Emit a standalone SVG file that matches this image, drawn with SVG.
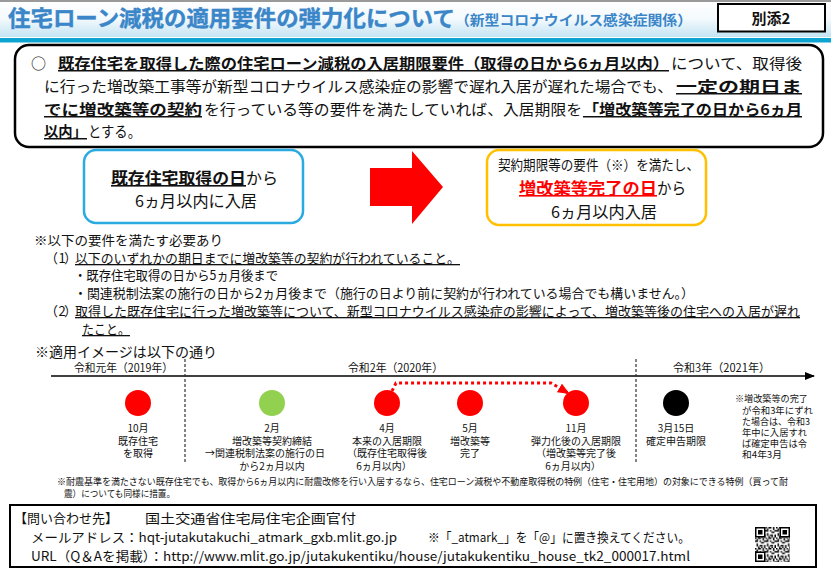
<svg xmlns="http://www.w3.org/2000/svg" width="831" height="572" viewBox="0 0 831 572">
<defs>
<linearGradient id="hdr" x1="0" y1="0" x2="0" y2="1">
<stop offset="0" stop-color="#ffffff"/>
<stop offset="0.5" stop-color="#f4fafd"/>
<stop offset="1" stop-color="#c4e4f3"/>
</linearGradient>
<pattern id="qrp" x="755" y="527" width="10.5" height="10.5" patternUnits="userSpaceOnUse">
<rect x="0" y="0" width="1.5" height="1.5"/><rect x="3" y="0" width="3" height="1.5"/><rect x="7.5" y="0" width="1.5" height="3"/>
<rect x="1.5" y="1.5" width="1.5" height="1.5"/><rect x="4.5" y="3" width="1.5" height="1.5"/><rect x="0" y="3" width="3" height="1.5"/>
<rect x="9" y="3" width="1.5" height="1.5"/><rect x="6" y="4.5" width="3" height="1.5"/><rect x="1.5" y="6" width="1.5" height="3"/>
<rect x="4.5" y="7.5" width="3" height="1.5"/><rect x="9" y="7.5" width="1.5" height="3"/><rect x="3" y="9" width="1.5" height="1.5"/>
<rect x="6" y="9" width="1.5" height="1.5"/>
</pattern>
<marker id="tl" markerWidth="10" markerHeight="8" refX="9" refY="4" orient="auto" markerUnits="userSpaceOnUse"><path d="M0,0 L10,4 L0,8 Z" fill="#000"/></marker>
<marker id="rd" markerWidth="12" markerHeight="10" refX="10" refY="5" orient="auto" markerUnits="userSpaceOnUse"><path d="M0,0 L12,5 L0,10 Z" fill="#ff0000"/></marker>
</defs>
<style>
text{font-family:"Noto Sans CJK JP","Noto Sans",sans-serif;fill:#111}
.b{font-weight:bold}
.u{text-decoration:underline}
.f15{font-size:15px}
.f16{font-size:16px}
.f14{font-size:14px}
.f13{font-size:13px}
.f12{font-size:11.5px}
.f9{font-size:9.5px}
.f9s{font-size:9px}
.m{text-anchor:middle}
.red{fill:#ff0000}
.lbl{font-size:10px;text-anchor:middle}
</style>
<rect width="831" height="572" fill="#ffffff"/>

<g id="header">
<rect x="0" y="0" width="831" height="37" fill="url(#hdr)"/>
<rect x="0" y="0" width="831" height="2" fill="#9a9a9a"/>
<rect x="0" y="38" width="831" height="4.5" fill="#0ea4d2"/>
<text x="8" y="26" font-size="22" class="b" style="fill:#3a86c8;stroke:#3a86c8;stroke-width:0.4" textLength="447" lengthAdjust="spacingAndGlyphs">住宅ローン減税の適用要件の弾力化について</text>
<text x="455" y="25" font-size="14" class="b" style="fill:#3a86c8" textLength="237" lengthAdjust="spacingAndGlyphs">（新型コロナウイルス感染症関係）</text>
</g>

<g id="attach-label">
<rect x="718" y="4" width="107" height="27.5" fill="#fff" stroke="#000" stroke-width="2"/>
<text x="771" y="23.5" font-size="15" class="b m">別添2</text>
</g>

<g id="summary-box">
<rect x="15" y="45" width="808" height="102" rx="14" fill="#fff" stroke="#000" stroke-width="2.5"/>
<text x="31" y="69" class="f15">○</text>
<text x="58" y="69" class="f15 b u" textLength="611" lengthAdjust="spacingAndGlyphs">既存住宅を取得した際の住宅ローン減税の入居期限要件（取得の日から6ヵ月以内）</text>
<text x="671" y="69" class="f15" textLength="131" lengthAdjust="spacingAndGlyphs">について、取得後</text>
<text x="44" y="92" class="f15" textLength="629" lengthAdjust="spacingAndGlyphs">に行った増改築工事等が新型コロナウイルス感染症の影響で遅れ入居が遅れた場合でも、</text>
<text x="676" y="92" class="f15 b u" textLength="126" lengthAdjust="spacingAndGlyphs">一定の期日ま</text>
<text x="44" y="115" class="f15 b u" textLength="158" lengthAdjust="spacingAndGlyphs">でに増改築等の契約</text>
<text x="204" y="115" class="f15" textLength="378" lengthAdjust="spacingAndGlyphs">を行っている等の要件を満たしていれば、入居期限を</text>
<text x="583" y="115" class="f15 b u" textLength="219" lengthAdjust="spacingAndGlyphs">「増改築等完了の日から6ヵ月</text>
<text x="44" y="137" class="f15 b u" textLength="43" lengthAdjust="spacingAndGlyphs">以内」</text>
<text x="88" y="137" class="f15" textLength="53" lengthAdjust="spacingAndGlyphs">とする。</text>
</g>

<g id="before-box">
<rect x="84" y="150" width="219" height="73" rx="12" fill="#fff" stroke="#29abe2" stroke-width="2.5"/>
<text x="111" y="184" class="f16 b u" textLength="135" lengthAdjust="spacingAndGlyphs">既存住宅取得の日</text>
<text x="246" y="184" class="f16" textLength="32" lengthAdjust="spacingAndGlyphs">から</text>
<text x="135" y="207" class="f16" textLength="122" lengthAdjust="spacingAndGlyphs">6ヵ月以内に入居</text>
</g>

<g id="connectors">
<polygon points="370,168 412,168 412,151 443,187 412,224 412,206 370,206" fill="#ff0000"/>
<line x1="51" y1="376" x2="814" y2="376" stroke="#000" stroke-width="1.5" marker-end="url(#tl)"/>
<line x1="185" y1="359" x2="185" y2="463" stroke="#333" stroke-width="1.2" stroke-dasharray="3 2"/>
<line x1="636" y1="359" x2="636" y2="463" stroke="#333" stroke-width="1.2" stroke-dasharray="3 2"/>
<path d="M392,391 L396,383 L551,383 L568,393" fill="none" stroke="#ff0000" stroke-width="3" stroke-dasharray="3 3" marker-end="url(#rd)"/>
</g>

<g id="after-box">
<rect x="487" y="150" width="219" height="75" rx="12" fill="#fff" stroke="#ffc000" stroke-width="2.5"/>
<text x="498" y="170" class="f14" textLength="201" lengthAdjust="spacingAndGlyphs">契約期限等の要件（※）を満たし、</text>
<text x="519" y="194" class="f16 b u red" textLength="138" lengthAdjust="spacingAndGlyphs">増改築等完了の日</text>
<text x="657" y="194" class="f16" textLength="29" lengthAdjust="spacingAndGlyphs">から</text>
<text x="551" y="218" class="f16" textLength="106" lengthAdjust="spacingAndGlyphs">6ヵ月以内入居</text>
</g>

<g id="requirements">
<text x="34" y="245" class="f13" textLength="189" lengthAdjust="spacingAndGlyphs">※以下の要件を満たす必要あり</text>
<g id="num1">
<text x="45" y="263" class="f13">（</text>
<text x="58.5" y="263" class="f13">1</text>
<text x="64" y="263" class="f13">）</text>
</g>
<text x="75" y="263" class="f13 u" textLength="385" lengthAdjust="spacingAndGlyphs">以下のいずれかの期日までに増改築等の契約が行われていること。</text>
<text x="74" y="280" class="f13" textLength="204" lengthAdjust="spacingAndGlyphs">・既存住宅取得の日から5ヵ月後まで</text>
<text x="74" y="298" class="f13" textLength="620" lengthAdjust="spacingAndGlyphs">・関連税制法案の施行の日から2ヵ月後まで（施行の日より前に契約が行われている場合でも構いません。）</text>
<g id="num2">
<text x="45" y="316" class="f13">（</text>
<text x="58.5" y="316" class="f13">2</text>
<text x="64" y="316" class="f13">）</text>
</g>
<text x="75" y="316" class="f13 u" textLength="725" lengthAdjust="spacingAndGlyphs">取得した既存住宅に行った増改築等について、新型コロナウイルス感染症の影響によって、増改築等後の住宅への入居が遅れ</text>
<text x="82" y="334" class="f13 u" textLength="48" lengthAdjust="spacingAndGlyphs">たこと。</text>
</g>

<g id="timeline-labels">
<text x="35" y="357" class="f14" textLength="182" lengthAdjust="spacingAndGlyphs">※適用イメージは以下の通り</text>
<text x="74" y="372" class="f12" textLength="99" lengthAdjust="spacingAndGlyphs">令和元年（2019年）</text>
<text x="348" y="372" class="f12" textLength="95" lengthAdjust="spacingAndGlyphs">令和2年（2020年）</text>
<text x="673" y="372" class="f12" textLength="97" lengthAdjust="spacingAndGlyphs">令和3年（2021年）</text>
</g>

<g id="event-oct">
<circle cx="138" cy="403" r="13" fill="#ff0000"/>
<text x="138" y="432" class="lbl">10月</text>
<text x="138" y="444.5" class="lbl">既存住宅</text>
<text x="138" y="457" class="lbl">を取得</text>
</g>
<g id="event-feb">
<circle cx="272" cy="403" r="13" fill="#92d050"/>
<text x="272" y="432" class="lbl">2月</text>
<text x="272" y="444.5" class="lbl">増改築等契約締結</text>
<text x="265" y="457" class="lbl">→関連税制法案の施行の日</text>
<text x="272" y="469.5" class="lbl">から2ヵ月以内</text>
</g>
<g id="event-apr">
<circle cx="387" cy="403" r="13" fill="#ff0000"/>
<text x="387" y="432" class="lbl">4月</text>
<text x="387" y="444.5" class="lbl">本来の入居期限</text>
<text x="387" y="457" class="lbl">（既存住宅取得後</text>
<text x="384" y="469.5" class="lbl">6ヵ月以内）</text>
</g>
<g id="event-may">
<circle cx="470" cy="403" r="13" fill="#ff0000"/>
<text x="470" y="432" class="lbl">5月</text>
<text x="470" y="444.5" class="lbl">増改築等</text>
<text x="470" y="457" class="lbl">完了</text>
</g>
<g id="event-nov">
<circle cx="576" cy="403" r="13" fill="#ff0000"/>
<text x="576" y="432" class="lbl">11月</text>
<text x="576" y="444.5" class="lbl">弾力化後の入居期限</text>
<text x="576" y="457" class="lbl">（増改築等完了後</text>
<text x="573" y="469.5" class="lbl">6ヵ月以内）</text>
</g>
<g id="event-mar">
<circle cx="676" cy="403" r="13" fill="#000"/>
<text x="676" y="432" class="lbl">3月15日</text>
<text x="676" y="444.5" class="lbl">確定申告期限</text>
</g>
<g id="note-right">
<text x="735" y="402" class="f9s" textLength="73" lengthAdjust="spacingAndGlyphs">※増改築等の完了</text>
<text x="742" y="413.5" class="f9s" textLength="71" lengthAdjust="spacingAndGlyphs">が令和3年にずれ</text>
<text x="742" y="425" class="f9s" textLength="68" lengthAdjust="spacingAndGlyphs">た場合は、令和3</text>
<text x="742" y="436" class="f9s" textLength="65" lengthAdjust="spacingAndGlyphs">年中に入居すれ</text>
<text x="742" y="447" class="f9s" textLength="65" lengthAdjust="spacingAndGlyphs">ば確定申告は令</text>
<text x="742" y="458" class="f9s" textLength="40" lengthAdjust="spacingAndGlyphs">和4年3月</text>
</g>

<g id="footnote">
<text x="57" y="485" class="f9" textLength="731" lengthAdjust="spacingAndGlyphs">※耐震基準を満たさない既存住宅でも、取得から6ヵ月以内に耐震改修を行い入居するなら、住宅ローン減税や不動産取得税の特例（住宅・住宅用地）の対象にできる特例（買って耐</text>
<text x="64" y="497" class="f9" textLength="111" lengthAdjust="spacingAndGlyphs">震）についても同様に措置。</text>
</g>

<g id="contact-box">
<rect x="10" y="505" width="806" height="62" fill="#fff" stroke="#000" stroke-width="2"/>
<text x="14" y="523" class="f13" textLength="104" lengthAdjust="spacingAndGlyphs">【問い合わせ先】</text>
<text x="145" y="523" class="f13" textLength="211" lengthAdjust="spacingAndGlyphs">国土交通省住宅局住宅企画官付</text>
<text x="31" y="542" class="f13" textLength="366" lengthAdjust="spacingAndGlyphs">メールアドレス：hqt-jutakutakuchi_atmark_gxb.mlit.go.jp</text>
<text x="428" y="542" class="f13" textLength="262" lengthAdjust="spacingAndGlyphs">※「_atmark_」を「@」に置き換えてください。</text>
<text x="31" y="561" class="f13" textLength="659" lengthAdjust="spacingAndGlyphs">URL（Q＆Aを掲載）：http://www.mlit.go.jp/jutakukentiku/house/jutakukentiku_house_tk2_000017.html</text>
<g id="qr">
<rect x="755" y="527" width="35" height="35" fill="url(#qrp)"/>
<rect x="755" y="527" width="10.5" height="10.5" fill="#000"/><rect x="756.5" y="528.5" width="7.5" height="7.5" fill="#fff"/><rect x="758" y="530" width="4.5" height="4.5" fill="#000"/>
<rect x="779.5" y="527" width="10.5" height="10.5" fill="#000"/><rect x="781" y="528.5" width="7.5" height="7.5" fill="#fff"/><rect x="782.5" y="530" width="4.5" height="4.5" fill="#000"/>
<rect x="755" y="551.5" width="10.5" height="10.5" fill="#000"/><rect x="756.5" y="553" width="7.5" height="7.5" fill="#fff"/><rect x="758" y="554.5" width="4.5" height="4.5" fill="#000"/>
</g>
</g>
</svg>
